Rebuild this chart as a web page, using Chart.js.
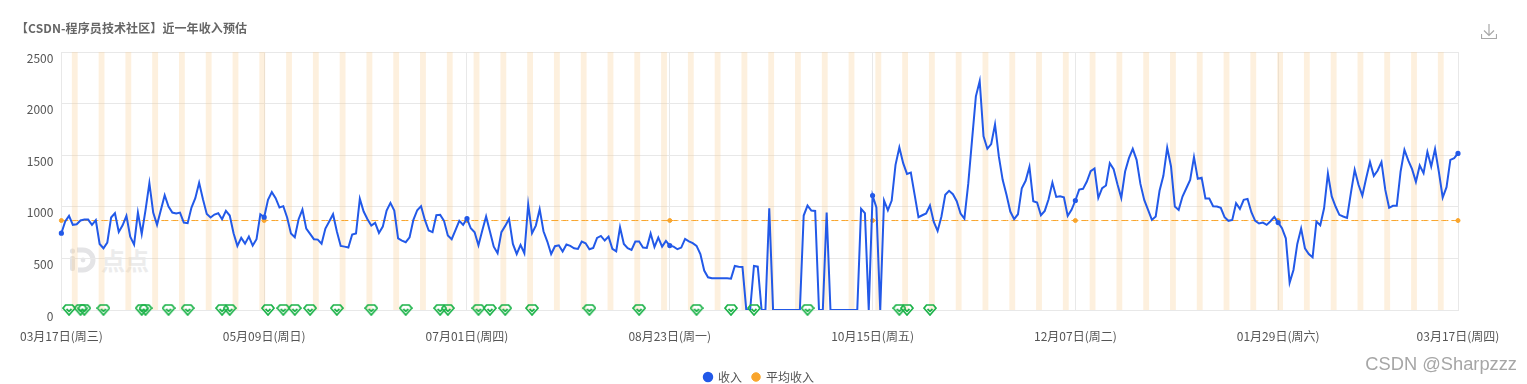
<!DOCTYPE html>
<html lang="en">
  <head>
    <meta charset="UTF-8" />
    <title>近一年收入预估</title>
    <script src="https://cdn.jsdelivr.net/npm/chart.js"></script>
    <style>
      html,
      body {
        margin: 0;
        padding: 0;
        width: 1527px;
        height: 384px;
        overflow: hidden;
        background: #fff;
        font-family: "Noto Sans CJK SC", "Noto Sans", sans-serif;
      }
      #wrap {
        position: absolute;
        left: 0;
        top: 0;
        width: 1527px;
        height: 393px;
      }
      #title {
        position: absolute;
        left: 16px;
        top: 19px;
        font-size: 12px;
        line-height: 18px;
        font-weight: bold;
        letter-spacing: 0.1px;
        color: #666;
      }
      #download {
        position: absolute;
        left: 1481px;
        top: 24px;
      }
      #logo {
        position: absolute;
        left: 69px;
        top: 247px;
      }
      #logoText {
        position: absolute;
        left: 101px;
        top: 243px;
        font-size: 24px;
        line-height: 34px;
        font-weight: bold;
        color: #ececec;
      }
      #credit {
        position: absolute;
        right: 10px;
        top: 354px;
        font-family: "Liberation Sans", sans-serif;
        font-size: 18.3px;
        line-height: 20px;
        color: #a6a6a6;
      }
    </style>
  </head>
  <body>
    <div id="logoText">点点</div>
    <svg id="logo" width="30" height="26" viewBox="0 0 30 26">
      <rect x="1" y="9" width="5" height="15" rx="2" fill="#e4e4e6" />
      <circle cx="3.5" cy="4" r="2.6" fill="#e4e4e6" />
      <path d="M8 3 h6 a10 10 0 0 1 0 20 h-5" fill="none" stroke="#e4e4e6" stroke-width="5" />
      <circle cx="14" cy="13" r="2.4" fill="#e4e4e6" />
    </svg>
    <div id="wrap"><canvas id="incomeChart"></canvas></div>
    <div id="title">【CSDN-程序员技术社区】近一年收入预估</div>
    <svg id="download" width="16" height="16" viewBox="0 0 16 16">
      <path d="M8 0 V11 M3 6.5 L8 11.5 L13 6.5 M0.5 10 V14.5 H15.5 V10" fill="none" stroke="#a8a8a8" stroke-width="1.2" />
    </svg>
    <div id="credit">CSDN @Sharpzzz</div>

    <script>
      const startDate = "2021-03-17";
      const dayCount = 366;
      const weekNames = ["周日", "周一", "周二", "周三", "周四", "周五", "周六"];
      const tickIndices = [0, 53, 106, 159, 212, 265, 318, 365];
      const yTicks = [0, 500, 1000, 1500, 2000, 2500];
      const averageIncome = 867;

      // one value per day
      const income = [
        744, 857, 912, 825, 831, 867, 876, 876, 825, 870, 640, 598, 653, 896, 938, 757, 821, 912, 711, 634,
        944, 737, 970, 1229, 944, 825, 970, 1112, 1003, 944, 935, 944, 847, 841, 993, 1083, 1232, 1073, 931, 896,
        925, 938, 880, 960, 915, 744, 621, 699, 643, 711, 624, 686, 928, 899, 1067, 1142, 1083, 993, 1006, 896,
        741, 705, 880, 973, 789, 737, 686, 682, 643, 789, 857, 928, 760, 621, 614, 605, 731, 741, 1077, 954,
        880, 818, 844, 747, 808, 964, 1038, 964, 695, 673, 657, 705, 873, 967, 1006, 873, 770, 754, 918, 922,
        864, 721, 686, 773, 864, 825, 886, 792, 754, 627, 770, 906, 760, 614, 550, 754, 815, 883, 640, 543,
        631, 550, 1022, 744, 818, 977, 763, 663, 543, 618, 627, 566, 634, 621, 598, 592, 663, 647, 589, 602,
        699, 718, 673, 711, 592, 569, 802, 640, 598, 582, 663, 663, 605, 602, 741, 611, 702, 614, 669, 624,
        614, 589, 605, 689, 666, 647, 621, 543, 382, 317, 307, 307, 307, 307, 307, 304, 427, 420, 417, 0,
        0, 427, 420, 0, 0, 986, 0, 0, 0, 0, 0, 0, 0, 0, 915, 1012, 964, 960, 0, 0,
        944, 0, 0, 0, 0, 0, 0, 0, 0, 980, 938, 0, 1109, 993, 0, 1061, 967, 1061, 1407, 1575,
        1423, 1319, 1332, 1116, 899, 918, 935, 1012, 854, 766, 906, 1116, 1155, 1122, 1054, 935, 886, 1222, 1649, 2070,
        2218, 1682, 1562, 1607, 1798, 1488, 1261, 1116, 954, 880, 928, 1180, 1252, 1387, 1054, 1041, 918, 960, 1073, 1235,
        1096, 1103, 1093, 912, 970, 1061, 1167, 1174, 1245, 1345, 1371, 1087, 1180, 1206, 1423, 1365, 1219, 1087, 1342, 1471,
        1562, 1455, 1222, 1067, 970, 873, 906, 1155, 1300, 1572, 1391, 1003, 970, 1100, 1180, 1261, 1481, 1271, 1281, 1080,
        1080, 1006, 1003, 990, 899, 864, 873, 1035, 980, 1067, 1077, 948, 864, 838, 847, 825, 860, 902, 847, 792,
        695, 265, 388, 640, 789, 598, 543, 511, 857, 821, 986, 1323, 1100, 1003, 922, 906, 893, 1132, 1358, 1213,
        1109, 1277, 1433, 1300, 1352, 1433, 1164, 990, 1009, 1009, 1342, 1552, 1449, 1365, 1242, 1400, 1326, 1533, 1391, 1559,
        1339, 1090, 1190, 1455, 1471, 1517,
      ];
      // days with a green diamond on the zero line
      const gemIndices = [
        2, 5, 6, 11, 21, 22, 28, 33, 42, 44, 54, 58, 61, 65, 72, 81, 90, 99, 101, 109, 112, 116, 123, 138, 151,
        166, 175, 181, 195, 219, 221, 227,
      ];

      const labels = [];
      const weekendDays = [];
      for (let i = 0; i < dayCount; i++) {
        const d = new Date(startDate + "T00:00:00Z");
        d.setUTCDate(d.getUTCDate() + i);
        const mm = String(d.getUTCMonth() + 1).padStart(2, "0");
        const dd = String(d.getUTCDate()).padStart(2, "0");
        labels.push(mm + "月" + dd + "日(" + weekNames[d.getUTCDay()] + ")");
        if (d.getUTCDay() === 6) weekendDays.push(i);
      }

      function makeGem() {
        const c = document.createElement("canvas");
        c.width = 14;
        c.height = 12;
        const g = c.getContext("2d");
        g.strokeStyle = "#1db34a";
        g.lineWidth = 1.7;
        g.beginPath();
        g.moveTo(3.5, 1);
        g.lineTo(10.5, 1);
        g.lineTo(13, 4.2);
        g.lineTo(7, 11);
        g.lineTo(1, 4.2);
        g.closePath();
        g.stroke();
        g.beginPath();
        g.moveTo(4.5, 5);
        g.lineTo(7, 7.3);
        g.lineTo(9.5, 5);
        g.stroke();
        return c;
      }

      const isTick = (ctx) => tickIndices.includes(ctx.dataIndex);

      // orange weekend stripes, Saturday to Sunday
      const weekendBands = {
        id: "weekendBands",
        beforeDatasetsDraw(chart) {
          const { ctx, chartArea, scales } = chart;
          ctx.save();
          ctx.fillStyle = "rgba(250, 205, 145, 0.3)";
          weekendDays.forEach((i) => {
            const x0 = scales.x.getPixelForValue(i) - 1;
            const x1 = scales.x.getPixelForValue(i + 1) + 1;
            ctx.fillRect(x0, chartArea.top, x1 - x0, chartArea.bottom - chartArea.top);
          });
          ctx.restore();
        },
      };

      const font = { family: '"Noto Sans CJK SC", "Noto Sans", sans-serif', size: 12, lineHeight: 1 };

      new Chart(document.getElementById("incomeChart"), {
        type: "line",
        data: {
          labels: labels,
          datasets: [
            {
              label: "收入",
              data: income,
              borderColor: "#2259e8",
              backgroundColor: "#2259e8",
              borderWidth: 2,
              tension: 0,
              pointRadius: (ctx) => (isTick(ctx) ? 1.6 : 0),
              pointHoverRadius: 3,
              order: 2,
            },
            {
              label: "平均收入",
              data: labels.map(() => averageIncome),
              borderColor: "#f9a52c",
              backgroundColor: "#f9a52c",
              borderWidth: 1,
              borderDash: [7, 3],
              pointRadius: (ctx) => (isTick(ctx) ? 2 : 0),
              order: 3,
            },
            {
              label: "gems",
              data: labels.map((_, i) => (gemIndices.includes(i) ? 0 : null)),
              showLine: false,
              pointStyle: makeGem(),
              pointRadius: 6,
              clip: false,
              order: 1,
            },
          ],
        },
        options: {
          responsive: true,
          maintainAspectRatio: false,
          animation: false,
          layout: { padding: { top: 52, right: 9, left: 0, bottom: 0 } },
          plugins: {
            title: { display: false },
            tooltip: { enabled: false },
            legend: {
              position: "bottom",
              labels: {
                usePointStyle: true,
                boxWidth: 8,
                boxHeight: 6,
                padding: 10,
                color: "#555",
                font: font,
                filter: (item) => item.text !== "gems",
              },
            },
          },
          scales: {
            x: {
              afterFit(scale) {
                scale.height = 51;
              },
              grid: { color: "#e8e8e8", drawTicks: false },
              border: { color: "#e8e8e8" },
              ticks: {
                autoSkip: false,
                maxRotation: 0,
                padding: 20,
                color: "#555",
                font: font,
                callback(value, index) {
                  return tickIndices.includes(index) ? labels[index] : null;
                },
              },
            },
            y: {
              min: 0,
              max: 2500,
              afterBuildTicks(scale) {
                scale.ticks = yTicks.map((v) => ({ value: v }));
              },
              afterFit(scale) {
                scale.width = 61;
              },
              grid: { color: "#e8e8e8", drawTicks: false },
              border: { color: "#e8e8e8" },
              ticks: {
                padding: 8,
                color: "#555",
                font: font,
                // labels sit a little under their grid line in the reference
                callback: (v) => ["", String(v)],
              },
            },
            spacer: {
              position: "right",
              min: 0,
              max: 1,
              afterFit(scale) {
                scale.width = 60;
              },
              grid: { display: false },
              border: { display: false },
              ticks: { display: false },
            },
          },
        },
        plugins: [weekendBands],
      });
    </script>
  </body>
</html>
